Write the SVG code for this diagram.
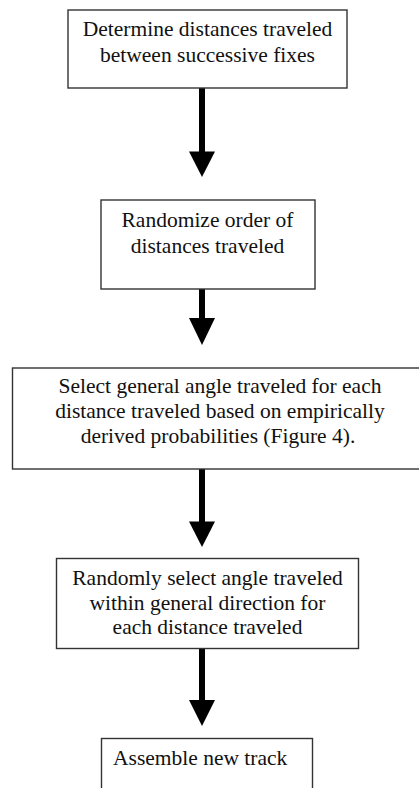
<svg xmlns="http://www.w3.org/2000/svg" width="419" height="788" viewBox="0 0 419 788">
<defs>
<style>
.box{fill:#fff;stroke:#333;stroke-width:1.4}
.t{font-size:21.5px;fill:#111;text-anchor:middle}
.shaft{fill:#000}
</style>
</defs>
<rect width="419" height="788" fill="#fff"/>
<g id="connectors">
<rect class="shaft" x="199" y="88" width="6" height="64"/>
<path d="M189,151.5 L215,151.5 L202,177 Z" fill="#000"/>
<rect class="shaft" x="199" y="289" width="6" height="30"/>
<path d="M189,318 L215,318 L202,345 Z" fill="#000"/>
<rect class="shaft" x="199" y="469" width="6" height="53"/>
<path d="M189,521.5 L215,521.5 L202,547 Z" fill="#000"/>
<rect class="shaft" x="199" y="648" width="6" height="53"/>
<path d="M189,700 L215,700 L202,726 Z" fill="#000"/>
</g>
<g font-family="'Liberation Serif', 'Times New Roman', 'DejaVu Serif', serif">
<g id="n1">
<rect class="box" x="68" y="10" width="279" height="78"/>
<text class="t" x="207.5" y="36">Determine distances traveled</text>
<text class="t" x="207.5" y="62">between successive fixes</text>
</g>
<g id="n2">
<rect class="box" x="101" y="200" width="214" height="89"/>
<text class="t" x="207.5" y="227">Randomize order of</text>
<text class="t" x="207.5" y="253">distances traveled</text>
</g>
<g id="n3">
<rect class="box" x="12.5" y="368" width="420" height="101"/>
<text class="t" x="220" y="392.5">Select general angle traveled for each</text>
<text class="t" x="220" y="417.5">distance traveled based on empirically</text>
<text class="t" x="218" y="442.5">derived probabilities (Figure 4).</text>
</g>
<g id="n4">
<rect class="box" x="56.5" y="558.5" width="302" height="90"/>
<text class="t" x="207.5" y="585">Randomly select angle traveled</text>
<text class="t" x="207.5" y="609.5">within general direction for</text>
<text class="t" x="207.5" y="634">each distance traveled</text>
</g>
<g id="n5">
<rect class="box" x="101.5" y="738.5" width="211" height="60"/>
<text class="t" x="113" y="765" style="text-anchor:start">Assemble new track</text>
</g>
</g>
</svg>
